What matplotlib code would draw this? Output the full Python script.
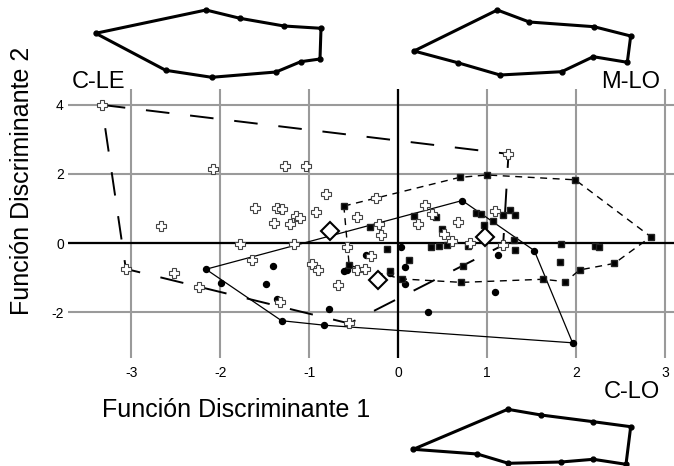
import matplotlib
matplotlib.use("Agg")
import matplotlib.pyplot as plt
import numpy as np

plt.rcParams['font.family'] = ['Liberation Sans', 'DejaVu Sans']
plt.rcParams['axes.unicode_minus'] = False
plt.rcParams['lines.scale_dashes'] = False

# ---------------- data ----------------
# Group C-LE (crosses)
cle_x = [-3.33, -2.08, -1.27, -1.03, -2.67, -1.61, -1.36, -1.31, -1.40, -1.21,
         -1.15, -1.10, -1.78, -1.17, -1.64, -3.06, -2.52, -2.24, -1.33, -0.81,
         -0.25, -0.92, -0.46, 0.30, 0.38, 0.22, 0.67, -0.22, -0.19, 1.09,
         0.51, 0.61, 0.81, 1.18, 1.24, -0.57, -0.31, -0.97, -0.90, -0.46,
         -0.37, -0.68, -0.55]
cle_y = [4.00, 2.14, 2.24, 2.24, 0.50, 1.02, 1.02, 0.99, 0.57, 0.55,
         0.78, 0.72, -0.03, -0.03, -0.48, -0.75, -0.87, -1.28, -1.70, 1.41,
         1.30, 0.89, 0.76, 1.10, 0.84, 0.54, 0.62, 0.54, 0.23, 0.94,
         0.25, 0.07, -0.01, -0.06, 2.58, -0.12, -0.39, -0.62, -0.78, -0.78,
         -0.76, -1.23, -2.33]
cle_hull = [0, 34, 33, 42, 15]

# Group M-LO (squares)
mlo_x = [-0.61, 0.69, 1.00, 1.99, 2.84, 2.43, 2.04, 1.88, 1.63, 0.71,
         0.04, -0.55, 0.18, 0.43, -0.32, 0.49, 0.88, 0.93, 0.97, 1.07,
         1.18, 1.26, 1.31, 1.31, -0.13, 0.37, 0.46, 0.55, 0.12, 0.78,
         0.97, -0.09, 1.30, 1.83, 1.82, 2.21, 2.26, 0.73]
mlo_y = [1.07, 1.90, 1.97, 1.83, 0.18, -0.59, -0.78, -1.12, -1.05, -1.14,
         -1.04, -0.65, 0.79, 0.76, 0.47, 0.40, 0.88, 0.84, 0.52, 0.65,
         0.81, 0.96, 0.81, -0.20, -0.18, -0.11, -0.09, -0.06, -0.48, -0.08,
         0.16, -0.80, 0.09, -0.04, -0.54, -0.08, -0.11, -0.67]
mlo_hull = [0, 1, 2, 3, 4, 5, 6, 7, 8, 9, 10, 11]

# Group C-LO (circles)
clo_x = [-2.16, -1.99, -1.41, -1.49, -1.36, -0.78, -1.31, -0.83, -0.61, -0.57,
         0.72, 0.03, -0.36, 0.08, -0.09, 1.12, 0.08, 0.33, 1.09, 1.53, 1.96]
clo_y = [-0.76, -1.17, -0.67, -1.20, -1.63, -1.90, -2.25, -2.38, -0.80, -0.78,
         1.23, -0.12, -0.35, -0.69, -0.88, -0.35, -1.20, -1.99, -1.41, -0.22, -2.89]
clo_hull = [0, 10, 19, 20, 7, 6]

# Group centroids
cent_x = [-0.77, -0.23, 0.98]
cent_y = [0.36, -1.07, 0.17]

x_ticks = [-3, -2, -1, 0, 1, 2, 3]
y_ticks = [-2, 0, 2, 4]

# outline landmarks (figure pixel space, 674 x 466)
fish_cle = [(95.7, 33.3), (206, 10), (240, 18.3), (284, 26), (321, 28.3),
            (320, 59), (300.7, 61.7), (276, 72), (211.7, 77.3), (165.7, 70.3)]
fish_mlo = [(414, 51), (497.3, 10), (529.3, 22), (594, 26.7), (630.7, 36),
            (627.3, 62.3), (593.3, 56.7), (561.7, 71.7), (500, 75), (457.7, 62.7)]
fish_clo = [(413.3, 449.3), (507.7, 409.3), (541, 415), (593.3, 421.7), (630.7, 426.7),
            (626, 464.3), (593.3, 459.3), (561, 462), (508.3, 463.3), (477.3, 454)]

# ---------------- figure ----------------
W, H = 674, 466
fig = plt.figure(figsize=(W / 100, H / 100), dpi=100)
ax = fig.add_axes([68 / W, 1 - 358 / H, (W - 68) / W, (358 - 89) / H])
ax.set_xlim(-3.71, 3.10)
ax.set_ylim(-3.33, 4.46)
for s in ax.spines.values():
    s.set_visible(False)
ax.set_xticks(x_ticks)
ax.set_yticks(y_ticks)
ax.set_xticklabels([str(t) for t in x_ticks])
ax.set_yticklabels([str(t) for t in y_ticks])
ax.tick_params(length=0, labelsize=10)
ax.tick_params(axis='x', pad=6)
ax.tick_params(axis='y', pad=3)
ax.grid(True, color='#9a9a9a', lw=1.5)
ax.set_axisbelow(True)
ax.axhline(0, color='black', lw=1.6, zorder=1.5)
ax.axvline(0, color='black', lw=1.6, zorder=1.5)


def closed(xs, ys, idx):
    idx = list(idx) + [idx[0]]
    return [xs[i] for i in idx], [ys[i] for i in idx]


hx, hy = closed(cle_x, cle_y, cle_hull)
ax.plot(hx, hy, color='black', lw=1.4, linestyle=(0, (17, 15)), zorder=2)
hx, hy = closed(mlo_x, mlo_y, mlo_hull)
ax.plot(hx, hy, color='black', lw=1.0, linestyle=(0, (5, 4)), zorder=2)
hx, hy = closed(clo_x, clo_y, clo_hull)
ax.plot(hx, hy, color='black', lw=0.9, zorder=2)

ax.plot(clo_x, clo_y, 'o', color='black', ms=4.3, zorder=3)
ax.plot(mlo_x, mlo_y, 's', color='black', mec='#222222', ms=5, zorder=3)
ax.plot(cle_x, cle_y, 'P', mfc='white', mec='#444444', mew=0.8, ms=7.5, zorder=4)
ax.plot(cent_x, cent_y, 'D', mfc='white', mec='black', mew=1.5, ms=9.5, zorder=5)

# outlines
ov = fig.add_axes([0, 0, 1, 1])
ov.set_xlim(0, W)
ov.set_ylim(H, 0)
ov.axis('off')
ov.patch.set_visible(False)
for f in (fish_cle, fish_mlo, fish_clo):
    pts = f + [f[0]]
    ov.plot([p[0] for p in pts], [p[1] for p in pts], color='black', lw=2.2,
            solid_joinstyle='round')
    ov.plot([p[0] for p in f], [p[1] for p in f], 'o', color='black', ms=3.5)

fig.text(72 / W, 1 - 82 / H, 'C-LE', fontsize=17, va='center', ha='left')
fig.text(660 / W, 1 - 82 / H, 'M-LO', fontsize=17, va='center', ha='right')
fig.text(660 / W, 1 - 392 / H, 'C-LO', fontsize=17, va='center', ha='right')
fig.text(236 / W, 1 - 410 / H, 'Función Discriminante 1', fontsize=18,
         va='center', ha='center')
fig.text(22 / W, 1 - 181 / H, 'Función Discriminante 2', fontsize=18,
         va='center', ha='center', rotation=90)

fig.savefig('out.png', dpi=100)
